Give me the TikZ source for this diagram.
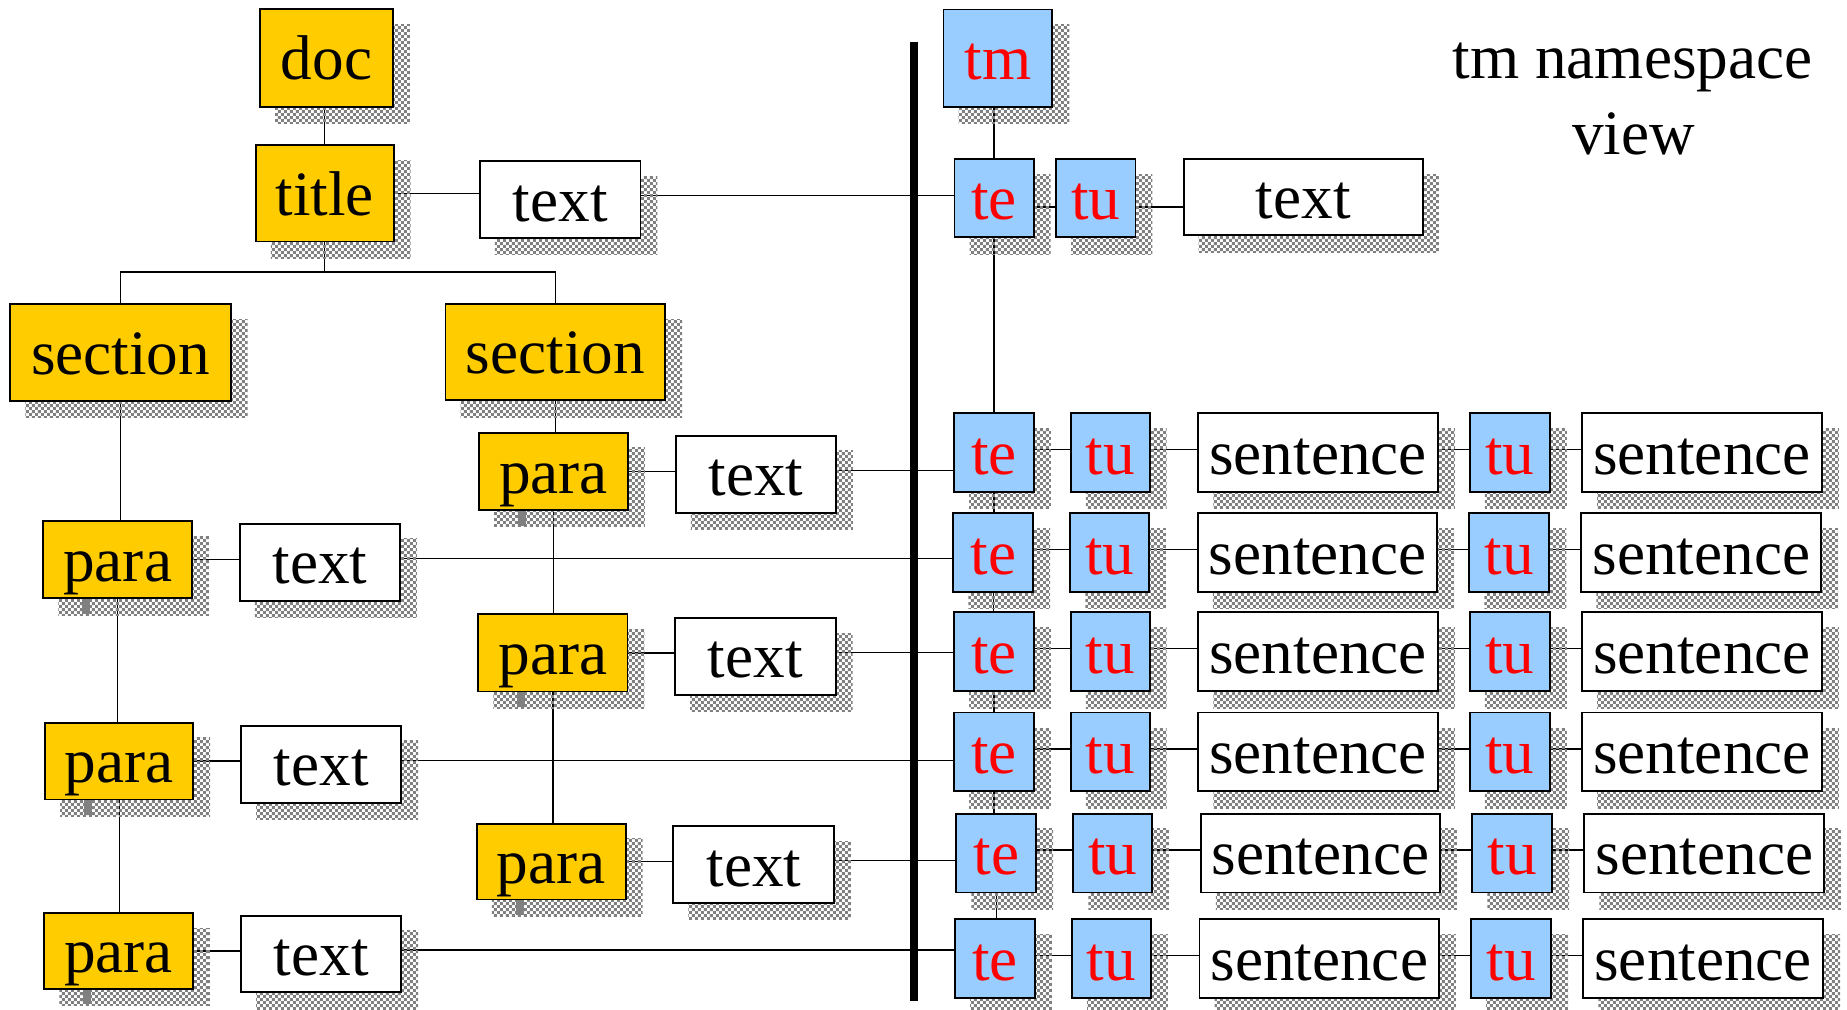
\documentclass[tikz,border=0pt]{standalone}
\usepackage{fontspec}
\setmainfont{Liberation Serif}
\usetikzlibrary{patterns}
\pgfdeclarelayer{lines}
\pgfdeclarelayer{shadows}
\pgfsetlayers{lines,shadows,main}
\pgfdeclarepatternformonly{finecheck}{\pgfpointorigin}{\pgfpoint{3pt}{3pt}}{\pgfpoint{3pt}{3pt}}{%
  \pgfpathrectangle{\pgfpointorigin}{\pgfpoint{1.5pt}{1.5pt}}%
  \pgfpathrectangle{\pgfpoint{1.5pt}{1.5pt}}{\pgfpoint{1.5pt}{1.5pt}}%
  \pgfusepath{fill}}
\definecolor{gold}{HTML}{FFCC00}
\definecolor{lblue}{HTML}{99CCFF}
\definecolor{shgray}{HTML}{808080}
\newcommand\bx[7]{\node[#1, minimum width={((#5)-(#3))*0.589pt}, minimum height={((#6)-(#4))*0.589pt}] (#2) at ({((#3)+(#5))/2},{((#4)+(#6))/2}) {#7};}
\begin{document}
\begin{tikzpicture}[x=0.589pt, y=-0.589pt,
  font=\fontsize{31.6}{38}\selectfont,
  box/.style={draw=black, line width=0.9pt, inner sep=0pt, text height=21.6pt, text depth=0pt},
  ybox/.style={box, fill=gold},
  bbox/.style={box, fill=lblue, text=red},
  wbox/.style={box, fill=white},
  conn/.style={line width=0.65pt, draw=black},
  shadowfill/.style={pattern=finecheck, pattern color=shgray}]
\useasboundingbox (0,0) rectangle (1568,857);

% left tree
\bx{ybox}{doc}{220.7}{7.9}{333.6}{90.6}{doc}
\bx{ybox}{title}{217.2}{123.4}{334.3}{205}{title}
\bx{wbox}{textT}{407.4}{137}{543.8}{202}{text}
\bx{ybox}{sec1}{8.7}{258.2}{195.9}{340.3}{section}
\bx{ybox}{sec2}{378.2}{258.2}{564.7}{339.7}{section}
\bx{ybox}{paraL1}{36.8}{442.3}{163}{507.9}{para}
\bx{wbox}{textL1}{203.5}{444.6}{339.6}{510}{text}
\bx{ybox}{paraL2}{38.3}{613.5}{164.1}{678.8}{para}
\bx{wbox}{textL2}{204.6}{616.1}{340.7}{681.4}{text}
\bx{ybox}{paraL3}{37.5}{775.1}{163.8}{839.4}{para}
\bx{wbox}{textL3}{204.6}{777.4}{340.7}{842.4}{text}
\bx{ybox}{paraR1}{406.6}{367.4}{533.2}{433}{para}
\bx{wbox}{textR1}{573.6}{370}{709.7}{435.4}{text}
\bx{ybox}{paraR2}{406.1}{521.5}{532.7}{587}{para}
\bx{wbox}{textR2}{573}{524.6}{709.4}{589.7}{text}
\bx{ybox}{paraR3}{404.7}{699.3}{531.3}{763.6}{para}
\bx{wbox}{textR3}{571.6}{701.3}{708.3}{766.4}{text}

% right side
\bx{bbox}{tm}{801}{8}{893.4}{90.6}{tm}
\bx{bbox}{te0}{810.3}{135}{877.6}{201.3}{te}
\bx{bbox}{tu0}{896.5}{135}{964}{201.3}{tu}
\bx{wbox}{textU0}{1004.8}{135}{1208}{199.6}{text}
\foreach \r/\ya/\yb/\dx in {1/350.6/417.7/0, 2/435.6/502.6/-0.5, 3/519.8/586.9/0, 4/604.8/671.8/0, 5/690.7/757.7/2, 6/780.3/847/1}{
  \bx{bbox}{te\r}{809.8+\dx}{\ya}{877.7+\dx}{\yb}{te}
  \bx{bbox}{tuA\r}{909.1+\dx}{\ya}{976+\dx}{\yb}{tu}
  \bx{wbox}{sA\r}{1017.3+\dx}{\ya}{1220.7+\dx}{\yb}{sentence}
  \bx{bbox}{tuB\r}{1247.8+\dx}{\ya}{1315.8+\dx}{\yb}{tu}
  \bx{wbox}{sB\r}{1343+\dx}{\ya}{1546.7+\dx}{\yb}{sentence}
}

\node[anchor=base] (ns1) at (1386,66.5) {tm namespace};
\node[anchor=base] (ns2) at (1387,130.8) {view};

\coordinate (bartop) at (775.6,35.4);
\coordinate (barbot) at (775.6,850);
\draw[line width=4pt] (bartop) -- (barbot);

% shadows
\begin{pgfonlayer}{shadows}
\foreach \n in {doc,title,textT,sec1,sec2,paraL1,textL1,paraL2,textL2,paraL3,textL3,paraR1,textR1,paraR2,textR2,paraR3,textR3,tm,te0,tu0,textU0,
  te1,te2,te3,te4,te5,te6,tuA1,tuA2,tuA3,tuA4,tuA5,tuA6,sA1,sA2,sA3,sA4,sA5,sA6,tuB1,tuB2,tuB3,tuB4,tuB5,tuB6,sB1,sB2,sB3,sB4,sB5,sB6}{
  \fill[shadowfill] ([shift={(8pt,-8pt)}]\n.south west) rectangle ([shift={(8pt,-8pt)}]\n.north east);
}
\foreach \n in {paraL1,paraL2,paraL3,paraR1,paraR2,paraR3}{
  \fill[shgray] ([xshift=20pt]\n.south west) rectangle ([xshift=23.9pt,yshift=-7.4pt]\n.south west);
}
\end{pgfonlayer}

% connectors
\begin{pgfonlayer}{lines}
\coordinate (bus) at (275,231);
\draw[conn] (title.north) -- (title.north |- doc.south);
\draw[conn] (title.south) -- (title.south |- bus);
\draw[conn] (sec1.north) |- (bus) -| (sec2.north);
\draw[conn] (title.east) -- (title.east -| textT.west);
\draw[conn] (sec1.south) -- (sec1.south |- paraL1.north);
\draw[conn] (paraL1.south) -- (paraL1.south |- paraL2.north);
\draw[conn] (paraL2.south) -- (paraL2.south |- paraL3.north);
\draw[conn] (sec2.south) -- (sec2.south |- paraR1.north);
\draw[conn] (paraR1.south) -- (paraR1.south |- paraR2.north);
\draw[conn] (paraR2.south) -- (paraR2.south |- paraR3.north);
\foreach \p/\t in {paraL1/textL1, paraL2/textL2, paraL3/textL3, paraR1/textR1, paraR2/textR2, paraR3/textR3}{
  \draw[conn] (\p.east) -- (\p.east -| \t.west);
}
\foreach \t/\e in {textT/te0, textR1/te1, textL1/te2, textR2/te3, textL2/te4, textR3/te5, textL3/te6}{
  \draw[conn, transform canvas={yshift=2pt}] (\t.east) -- (\t.east -| \e.west);
}
\draw[conn] (te0.north) -- (te0.north |- tm.south);
\draw[conn] (te0.south) -- (te0.south |- te1.north);
\foreach \r/\s in {1/2,2/3,3/4,4/5,5/6}{
  \draw[conn] (te\r.south) -- (te\r.south |- te\s.north);
}
\draw[conn, transform canvas={yshift=-4.4pt}] (te0.east) -- (te0.east -| tu0.west);
\draw[conn, transform canvas={yshift=-4.4pt}] (tu0.east) -- (tu0.east -| textU0.west);
\foreach \r in {1,...,6}{
  \draw[conn, transform canvas={yshift=1.5pt}] (te\r.east) -- (te\r.east -| tuA\r.west);
  \draw[conn, transform canvas={yshift=1.5pt}] (tuA\r.east) -- (tuA\r.east -| sA\r.west);
  \draw[conn, transform canvas={yshift=1.5pt}] (sA\r.east) -- (sA\r.east -| tuB\r.west);
  \draw[conn, transform canvas={yshift=1.5pt}] (tuB\r.east) -- (tuB\r.east -| sB\r.west);
}
\end{pgfonlayer}
\end{tikzpicture}
\end{document}
